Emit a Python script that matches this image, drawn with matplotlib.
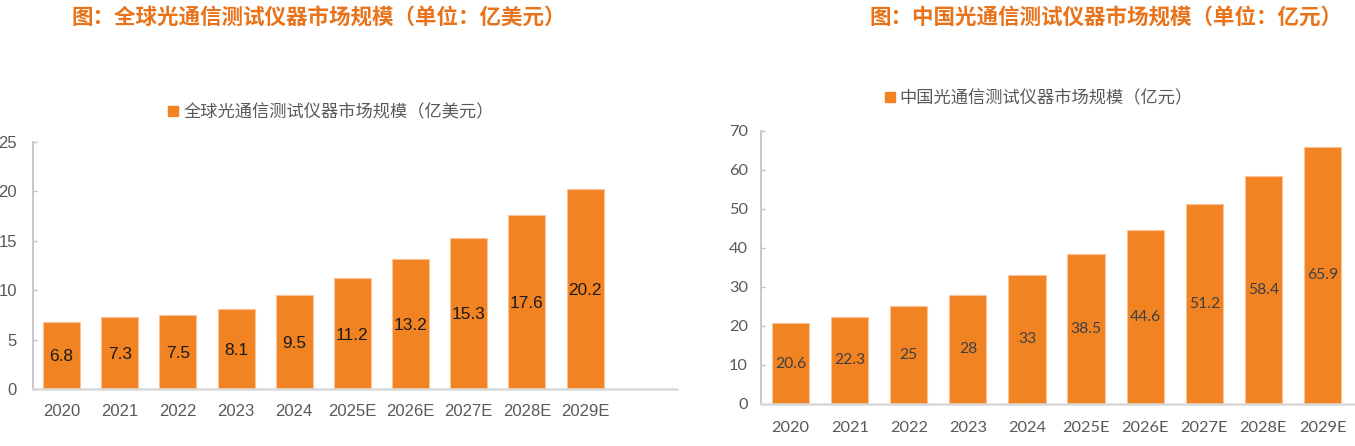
import numpy as np
import matplotlib
matplotlib.use("Agg")
import matplotlib.pyplot as plt
from matplotlib.patches import Patch

plt.rcParams['font.family'] = ['Noto Sans CJK SC', 'DejaVu Sans']

years = ['2020', '2021', '2022', '2023', '2024', '2025E', '2026E', '2027E', '2028E', '2029E']
global_size = [6.8, 7.3, 7.5, 8.1, 9.5, 11.2, 13.2, 15.3, 17.6, 20.2]
china_size = [20.6, 22.3, 25, 28, 33, 38.5, 44.6, 51.2, 58.4, 65.9]
global_labels = ['6.8', '7.3', '7.5', '8.1', '9.5', '11.2', '13.2', '15.3', '17.6', '20.2']
china_labels = ['20.6', '22.3', '25', '28', '33', '38.5', '44.6', '51.2', '58.4', '65.9']

bar_color = '#F28322'
edge_color = '#F9C39A'
title_color = '#E8731A'
grey = '#595959'

fig = plt.figure(figsize=(13.55, 4.46), dpi=100)


def style_axes(ax, ymax, ystep, num_font, num_size, xpad, ypad):
    ax.set_ylim(0, ymax)
    ax.set_yticks(np.arange(0, ymax + 1, ystep))
    for s in ['top', 'right']:
        ax.spines[s].set_visible(False)
    ax.spines['left'].set_color('#BFBFBF')
    ax.spines['left'].set_linewidth(1.2)
    ax.spines['bottom'].set_color('#D9D9D9')
    ax.spines['bottom'].set_linewidth(1.8)
    ax.tick_params(axis='y', direction='in', length=3, width=1, color='#BFBFBF',
                   pad=ypad, labelcolor=grey)
    ax.tick_params(axis='x', length=0, pad=xpad, labelcolor=grey)
    for lab in ax.get_xticklabels() + ax.get_yticklabels():
        lab.set_fontfamily(num_font)
        lab.set_fontsize(num_size)


# left panel: global market
ax1 = fig.add_axes([33 / 1355, 1 - 389 / 446, 644 / 1355, 247 / 446])
x = np.arange(len(years))
bars1 = ax1.bar(x, global_size, width=0.636, color=bar_color, edgecolor=edge_color, linewidth=0.8)
ax1.set_xlim(-0.49, 10.58)
ax1.set_xticks(x)
ax1.set_xticklabels(years)
style_axes(ax1, 25, 5, 'Liberation Sans', 12, 10.5, 11.5)
for rect, lab in zip(bars1, global_labels):
    ax1.text(rect.get_x() + rect.get_width() / 2, rect.get_height() / 2 - 0.15, lab,
             ha='center', va='center', fontsize=12.4, color='#1A1A1A',
             family=['Liberation Sans', 'DejaVu Sans'])
ax1.legend(handles=[Patch(color=bar_color, label='全球光通信测试仪器市场规模（亿美元）')],
           loc='center', bbox_to_anchor=(331 / 1355, 1 - 112 / 446),
           bbox_transform=fig.transFigure, frameon=False, fontsize=12.4,
           handlelength=0.55, handleheight=0.55, handletextpad=0.3, labelcolor=grey)

# right panel: China market
ax2 = fig.add_axes([761 / 1355, 1 - 403.7 / 446, 594 / 1355, 273 / 446])
bars2 = ax2.bar(x, china_size, width=0.63, color=bar_color, edgecolor=edge_color, linewidth=0.8)
ax2.set_xlim(-0.5, 9.55)
ax2.set_xticks(x)
ax2.set_xticklabels(years)
style_axes(ax2, 70, 10, 'Lato', 11.8, 12.5, 9.5)
for rect, lab in zip(bars2, china_labels):
    ax2.text(rect.get_x() + rect.get_width() / 2, rect.get_height() / 2, lab,
             ha='center', va='center', fontsize=11.3, color='#404040',
             family=['Lato', 'DejaVu Sans'])
ax2.legend(handles=[Patch(color=bar_color, label='中国光通信测试仪器市场规模（亿元）')],
           loc='center', bbox_to_anchor=(1039 / 1355, 1 - 98 / 446),
           bbox_transform=fig.transFigure, frameon=False, fontsize=12.4,
           handlelength=0.55, handleheight=0.55, handletextpad=0.3, labelcolor=grey)

# titles
fig.text(319 / 1355, 1 - 18 / 446, '图：全球光通信测试仪器市场规模（单位：亿美元）',
         ha='center', va='center', fontsize=15.5, fontweight='bold', color=title_color)
fig.text(1106 / 1355, 1 - 18 / 446, '图：中国光通信测试仪器市场规模（单位：亿元）',
         ha='center', va='center', fontsize=15.5, fontweight='bold', color=title_color)

fig.savefig('out.png', dpi=100)
